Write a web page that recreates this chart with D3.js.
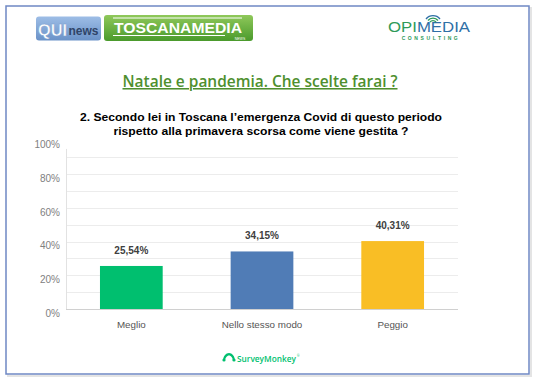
<!DOCTYPE html>
<html>
<head>
<meta charset="utf-8">
<script src="https://cdn.jsdelivr.net/npm/d3@7"></script>
<style>
  body { margin: 0; background: #fff; }
  svg { display: block; }
</style>
</head>
<body>
<svg id="chart"></svg>
<script>
const categories = ["Meglio", "Nello stesso modo", "Peggio"];
const values = [25.54, 34.15, 40.31];
const barColors = ["#00bf6f", "#507cb6", "#f9be25"];
const yTicks = [0, 20, 40, 60, 80, 100];
const gridTicks = [10, 20, 30, 40, 50, 60, 70, 80, 90];

const title = "Natale e pandemia. Che scelte farai ?";
const question = [
  "2. Secondo lei in Toscana l\u2019emergenza Covid di questo periodo",
  "rispetto alla primavera scorsa come viene gestita ?"
];

const width = 535;
const height = 380;
const margin = { top: 140.5, right: 77, bottom: 71, left: 66 };

const svg = d3.select("#chart").attr("width", width).attr("height", height);

const defs = svg.append("defs");
const quiGrad = defs.append("linearGradient").attr("id", "quiGrad")
  .attr("x1", 0).attr("y1", 0).attr("x2", 0).attr("y2", 1);
quiGrad.append("stop").attr("offset", "0%").attr("stop-color", "#9dbde6");
quiGrad.append("stop").attr("offset", "100%").attr("stop-color", "#6a92c8");
const tosGrad = defs.append("linearGradient").attr("id", "tosGrad")
  .attr("x1", 0).attr("y1", 0).attr("x2", 0).attr("y2", 1);
tosGrad.append("stop").attr("offset", "0%").attr("stop-color", "#8fc85a");
tosGrad.append("stop").attr("offset", "100%").attr("stop-color", "#4a9a2c");

// frame + soft shadow
svg.append("rect")
  .attr("x", 8).attr("y", 8).attr("width", 523).attr("height", 368)
  .attr("fill", "none").attr("stroke", "#e4e4e4").attr("stroke-width", 2);
svg.append("rect")
  .attr("x", 6).attr("y", 6).attr("width", 523).attr("height", 368)
  .attr("fill", "#fff").attr("stroke", "#6f88c4").attr("stroke-width", 1.5);

// logos (header)
const logos = svg.append("g");
logos.append("rect").attr("x", 36).attr("y", 16.5).attr("width", 65).attr("height", 24)
  .attr("rx", 3).attr("fill", "url(#quiGrad)");
logos.append("text").attr("x", 38).attr("y", 36)
  .attr("font-family", "Liberation Sans, Arial, sans-serif").attr("font-weight", "bold")
  .attr("font-size", 17).attr("fill", "#ffffff").attr("stroke", "#7f9fcf").attr("stroke-width", 0.5)
  .attr("textLength", 29).attr("lengthAdjust", "spacingAndGlyphs")
  .text("QUI");
logos.append("text").attr("x", 68.5).attr("y", 35)
  .attr("font-family", "Liberation Sans, Arial, sans-serif").attr("font-weight", "bold")
  .attr("font-size", 12).attr("fill", "#2f4468")
  .attr("textLength", 30).attr("lengthAdjust", "spacingAndGlyphs")
  .text("news");

logos.append("rect").attr("x", 104).attr("y", 15).attr("width", 149).attr("height", 26)
  .attr("rx", 3).attr("fill", "url(#tosGrad)");
logos.append("line").attr("x1", 113).attr("x2", 242).attr("y1", 18).attr("y2", 18)
  .attr("stroke", "#fff").attr("stroke-width", 1);
logos.append("line").attr("x1", 113).attr("x2", 225).attr("y1", 35.5).attr("y2", 35.5)
  .attr("stroke", "#fff").attr("stroke-width", 1);
logos.append("text").attr("x", 178).attr("y", 33).attr("text-anchor", "middle")
  .attr("font-family", "Liberation Sans, Arial, sans-serif").attr("font-weight", "bold")
  .attr("font-size", 15).attr("fill", "#fff")
  .attr("textLength", 128).attr("lengthAdjust", "spacingAndGlyphs")
  .text("TOSCANAMEDIA");
logos.append("text").attr("x", 240).attr("y", 39.5).attr("text-anchor", "middle")
  .attr("font-family", "Liberation Sans, Arial, sans-serif")
  .attr("font-size", 3.5).attr("fill", "#fff").text("NEWS");

// OPIMEDIA
const opi = logos.append("text").attr("x", 388).attr("y", 32)
  .attr("font-family", "Liberation Sans, Arial, sans-serif")
  .attr("font-size", 14).attr("textLength", 82).attr("lengthAdjust", "spacingAndGlyphs");
opi.append("tspan").attr("fill", "#2e9a58").text("OPI");
opi.append("tspan").attr("fill", "#2e6fa6").text("MEDIA");
logos.append("text").attr("x", 431).attr("y", 40).attr("text-anchor", "middle")
  .attr("font-family", "Liberation Sans, Arial, sans-serif").attr("font-weight", "bold")
  .attr("font-size", 5).attr("letter-spacing", 2.6).attr("fill", "#2e9a58")
  .text("CONSULTING");
[4, 6.5, 9].forEach((r, i) => {
  logos.append("path")
    .attr("d", d3.arc()({ innerRadius: r - 0.8, outerRadius: r + 0.6, startAngle: -0.9, endAngle: 0.9 }))
    .attr("transform", `translate(433,${24.5})`)
    .attr("fill", i === 2 ? "#2e6fa6" : "#2e9a58");
});

// title
svg.append("text")
  .attr("x", 260).attr("y", 87).attr("text-anchor", "middle")
  .attr("font-family", "Open Sans, sans-serif").attr("font-weight", 600)
  .attr("font-size", 15.5).attr("fill", "#4e8f2e")
  .attr("text-decoration", "underline")
  .attr("textLength", 275).attr("lengthAdjust", "spacingAndGlyphs")
  .text(title);

// question, two lines
svg.selectAll(".question")
  .data(question)
  .join("text")
  .attr("class", "question")
  .attr("x", 261)
  .attr("y", (d, i) => 120.5 + i * 14)
  .attr("text-anchor", "middle")
  .attr("font-family", "Liberation Sans, Arial, sans-serif").attr("font-weight", 700)
  .attr("font-size", 11.8).attr("fill", "#000")
  .attr("textLength", (d, i) => (i === 0 ? 362 : 295))
  .attr("lengthAdjust", "spacingAndGlyphs")
  .text((d) => d);

// chart
const x = d3.scaleBand()
  .domain(categories)
  .range([margin.left, width - margin.right])
  .paddingInner(0.52)
  .paddingOuter(0.26);

const y = d3.scaleLinear()
  .domain([0, 100])
  .range([height - margin.bottom, margin.top]);

const plot = svg.append("g");

plot.selectAll(".grid")
  .data(gridTicks)
  .join("line")
  .attr("class", "grid")
  .attr("x1", margin.left).attr("x2", width - margin.right)
  .attr("y1", (d) => Math.round(y(d)) + 0.5).attr("y2", (d) => Math.round(y(d)) + 0.5)
  .attr("stroke", "#ececec").attr("stroke-width", 1);

plot.append("line")
  .attr("x1", margin.left + 0.5).attr("x2", margin.left + 0.5)
  .attr("y1", y(95)).attr("y2", y(0))
  .attr("stroke", "#e2e2e2");

plot.selectAll(".bar")
  .data(values)
  .join("rect")
  .attr("class", "bar")
  .attr("x", (d, i) => x(categories[i]))
  .attr("width", x.bandwidth())
  .attr("y", (d) => y(d))
  .attr("height", (d) => y(0) - y(d))
  .attr("fill", (d, i) => barColors[i]);

plot.append("line")
  .attr("x1", margin.left).attr("x2", width - margin.right)
  .attr("y1", y(0) + 0.5).attr("y2", y(0) + 0.5)
  .attr("stroke", "#d0d0d0");

const yAxis = d3.axisLeft(y)
  .tickValues(yTicks)
  .tickSize(0)
  .tickPadding(6)
  .tickFormat((d) => d + "%");

plot.append("g")
  .attr("transform", `translate(${margin.left},4)`)
  .call(yAxis)
  .call((g) => g.select(".domain").remove())
  .call((g) => g.selectAll("text")
    .attr("font-family", "Liberation Sans, Arial, sans-serif")
    .attr("font-size", 10).attr("fill", "#808080"));

plot.selectAll(".valueLabel")
  .data(values)
  .join("text")
  .attr("class", "valueLabel")
  .attr("x", (d, i) => x(categories[i]) + x.bandwidth() / 2)
  .attr("y", (d) => y(d) - 12)
  .attr("text-anchor", "middle")
  .attr("font-family", "Liberation Sans, Arial, sans-serif")
  .attr("font-weight", "bold").attr("font-size", 10).attr("fill", "#404040")
  .text((d) => d3.format(".2f")(d).replace(".", ",") + "%");

plot.selectAll(".catLabel")
  .data(categories)
  .join("text")
  .attr("class", "catLabel")
  .attr("x", (d) => x(d) + x.bandwidth() / 2)
  .attr("y", y(0) + 19)
  .attr("text-anchor", "middle")
  .attr("font-family", "Liberation Sans, Arial, sans-serif")
  .attr("font-size", 9.8).attr("fill", "#555")
  .text((d) => d);

// SurveyMonkey mark
const sm = svg.append("g").attr("transform", "translate(223,352)");
sm.append("path")
  .attr("d", "M0,9 C0,4 3,1 6,1 C9,1 12,4 12,9 L10,9 C10,6 8,3.5 6,3.5 C4,3.5 2,6 2,9 Z")
  .attr("fill", "#00bf6f");
sm.append("circle").attr("cx", 1).attr("cy", 8).attr("r", 1.6).attr("fill", "#00bf6f");
sm.append("circle").attr("cx", 11).attr("cy", 8).attr("r", 1.6).attr("fill", "#00bf6f");
sm.append("text").attr("x", 14).attr("y", 9.5)
  .attr("font-family", "Open Sans, sans-serif").attr("font-weight", 600)
  .attr("font-size", 8.5).attr("fill", "#00bf6f")
  .attr("textLength", 59).attr("lengthAdjust", "spacingAndGlyphs")
  .text("SurveyMonkey");
sm.append("text").attr("x", 74).attr("y", 5)
  .attr("font-family", "Open Sans, sans-serif").attr("font-size", 3)
  .attr("fill", "#00bf6f").text("\u00ae");
</script>
</body>
</html>
